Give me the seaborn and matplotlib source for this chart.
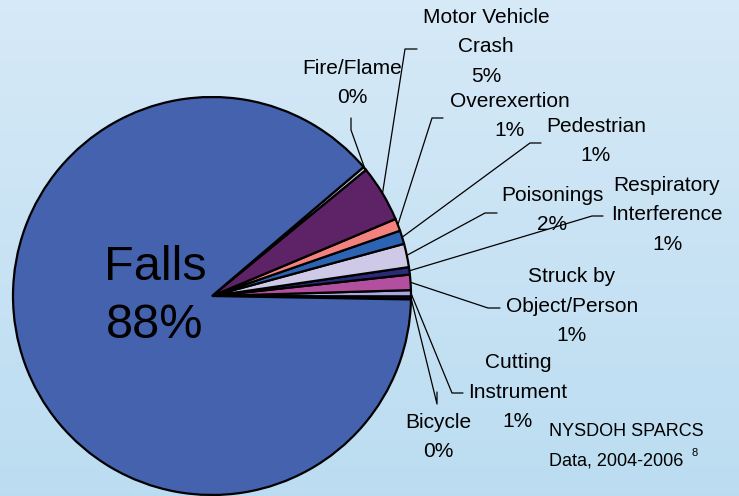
import numpy as np
import matplotlib
matplotlib.use("Agg")
import matplotlib.pyplot as plt
import seaborn as sns

# dados (fatias em %, sentido anti-horario a partir da direita)
categorias = ["Bicycle", "Cutting\nInstrument", "Struck by\nObject/Person",
              "Respiratory\nInterference", "Poisonings", "Pedestrian",
              "Overexertion", "Motor Vehicle\nCrash", "Fire/Flame", "Falls"]
valores = [0.25, 0.5, 1.25, 0.6, 1.9, 1.1, 1.0, 4.6, 0.3, 88.5]
rotulos_pct = ["0%", "1%", "1%", "1%", "2%", "1%", "1%", "5%", "0%", "88%"]
cores = ["#1a1a40", "#a9a6e0", "#b24f9f", "#2a2a78", "#cdc9e6", "#2d63b3",
         "#f3827e", "#5e2266", "#b9c6ea", "#4462ad"]

sns.set_theme(style="white")
plt.rcParams["font.family"] = ["Liberation Sans", "DejaVu Sans"]

W, H = 739, 496
fig = plt.figure(figsize=(W / 100, H / 100), dpi=100)

# fundo em degrade azul claro
bg = fig.add_axes([0, 0, 1, 1], zorder=0)
grad = np.linspace(0, 1, 256).reshape(-1, 1)
top = np.array([0.84, 0.915, 0.97])
bot = np.array([0.735, 0.865, 0.945])
img = top + (bot - top) * grad[:, :, None]
bg.imshow(img, aspect="auto", extent=[0, 1, 0, 1])
bg.axis("off")

# centro e raio da pizza em pixels
cx, cy, R = 212, 296, 199

def px(x, y):
    return (x - cx) / R, (cy - y) / R

ax = fig.add_axes([0, 0, 1, 1], zorder=1)
ax.patch.set_alpha(0)
wedges, _ = ax.pie(valores, colors=cores, startangle=-1, counterclock=True,
                   radius=1, wedgeprops=dict(edgecolor="black", linewidth=1.6))
ax.set_xlim(px(0, 0)[0], px(W, 0)[0])
ax.set_ylim(px(0, H)[1], px(0, 0)[1])
ax.set_aspect("auto")
ax.axis("off")

# posicao dos rotulos (centro do bloco de texto) e do "joelho" da linha guia, em pixels
pos_texto = [(438, 437), (518, 392), (572, 306), (667, 215), (552, 210),
             (596, 141), (510, 116), (486, 47), (352, 83)]
joelho = [((437, 404), (437, 392)), ((452, 393), (463, 393)),
          ((488, 308), (500, 308)), ((592, 216), (603, 216)),
          ((485, 213), (497, 213)), ((530, 143), (541, 143)),
          ((432, 118), (443, 118)), ((405, 49), (417, 49)),
          ((351, 130), (351, 118))]

fs = 15
passo = 29.5  # distancia entre linhas, em pixels
for i, w in enumerate(wedges[:-1]):
    ang = np.deg2rad((w.theta1 + w.theta2) / 2)
    x0, y0 = np.cos(ang), np.sin(ang)
    (k1, k2) = joelho[i]
    p1 = px(*k1)
    p2 = px(*k2)
    ax.plot([x0, p1[0], p2[0]], [y0, p1[1], p2[1]], color="black", lw=0.9,
            zorder=0.5)
    linhas = (categorias[i] + "\n" + rotulos_pct[i]).split("\n")
    lx, ly = pos_texto[i]
    y_ini = ly - passo * (len(linhas) - 1) / 2
    for j, t in enumerate(linhas):
        tx, ty = px(lx, y_ini + j * passo)
        ax.text(tx, ty, t, ha="center", va="center", fontsize=fs,
                color="black", zorder=5)

# rotulo grande de Falls
for t, yy in zip([categorias[-1], rotulos_pct[-1]], [268, 325]):
    fx, fy = px(155, yy)
    ax.text(fx, fy, t, ha="center", va="center", fontsize=35, color="black",
            zorder=5)

# fonte dos dados
for t, yy in zip(["NYSDOH SPARCS", "Data, 2004-2006"], [432, 461]):
    sx, sy = px(549, yy)
    ax.text(sx, sy, t, ha="left", va="center", fontsize=13, color="black",
            zorder=5)
ex, ey = px(692, 453)
ax.text(ex, ey, "8", ha="left", va="center", fontsize=8, color="black", zorder=5)

fig.savefig("out.png", dpi=100)
